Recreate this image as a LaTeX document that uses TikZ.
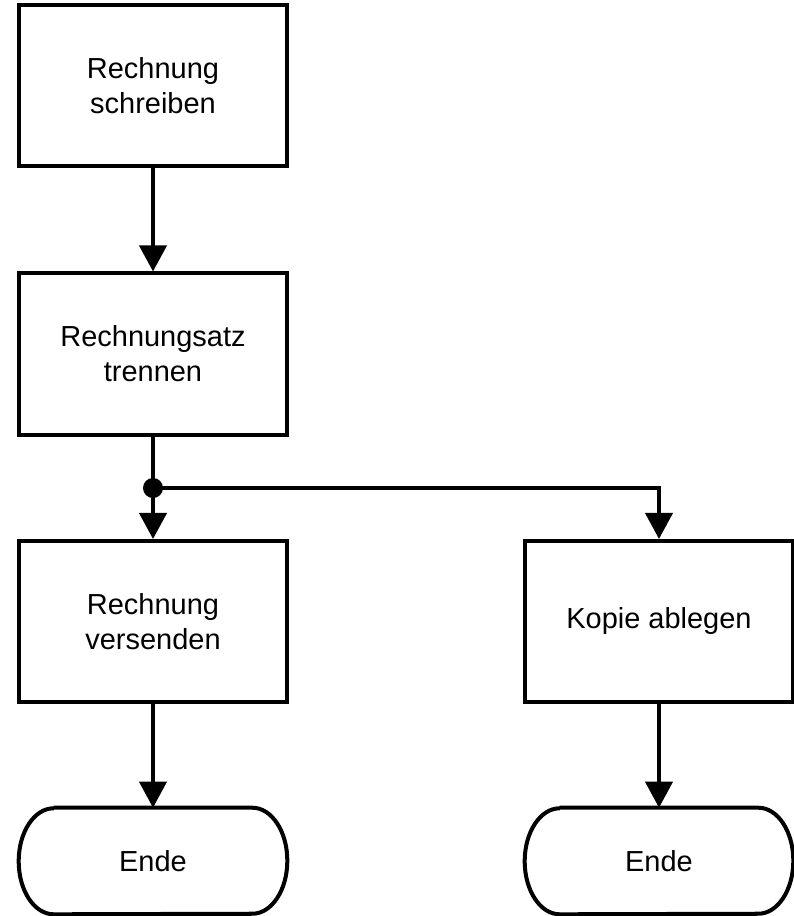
\documentclass[tikz,border=0pt]{standalone}
\usepackage{fontspec}
\setmainfont{Liberation Sans}
\usetikzlibrary{positioning,calc,arrows.meta}

\tikzset{
  stepbox/.style={draw, line width=2.85pt, minimum width=6.7cm, minimum height=4.025cm,
    align=center, font=\fontsize{20.6}{24.9}\selectfont},
  endbox/.style={minimum width=6.7cm, minimum height=2.65cm, align=center,
    font=\fontsize{20.6}{24.9}\selectfont},
  flow/.style={line width=2.85pt, -{Triangle[length=0.65cm, width=0.675cm]}},
  line/.style={line width=2.85pt}
}

\begin{document}
\begin{tikzpicture}[x=0.025cm, y=-0.025cm]
    \useasboundingbox (0,0) rectangle (794,916);

    % Steps
    \node[stepbox] (write) at (153, 85.5) {Rechnung\\schreiben};
    \node[stepbox] (split) at (153, 354) {Rechnungsatz\\trennen};
    \node[stepbox] (send) at (153, 621.5) {Rechnung\\versenden};
    \node[stepbox] (file) at (659, 621.5) {Kopie ablegen};

    % End states
    \node[endbox] (end1) at (153, 861) {Ende};
    \node[endbox] (end2) at (659, 861) {Ende};
    \foreach \e in {end1, end2}
        \draw[line] ($(\e.north west)+(35,0)$) -- ($(\e.north east)+(-35,0)$)
            arc[start angle=90, end angle=-90, x radius=0.875cm, y radius=1.325cm]
            -- ($(\e.south west)+(35,0)$)
            arc[start angle=270, end angle=90, x radius=0.875cm, y radius=1.325cm];

    % Connections
    \coordinate (fork) at (153, 488);
    \draw[flow] (write) -- (split);
    \draw[line] (split) -- (fork);
    \draw[flow] (fork) -- (send);
    \draw[flow] (fork) -| (file);
    \fill (fork) circle (0.25cm);
    \draw[flow] (send) -- (end1);
    \draw[flow] (file) -- (end2);
\end{tikzpicture}
\end{document}
